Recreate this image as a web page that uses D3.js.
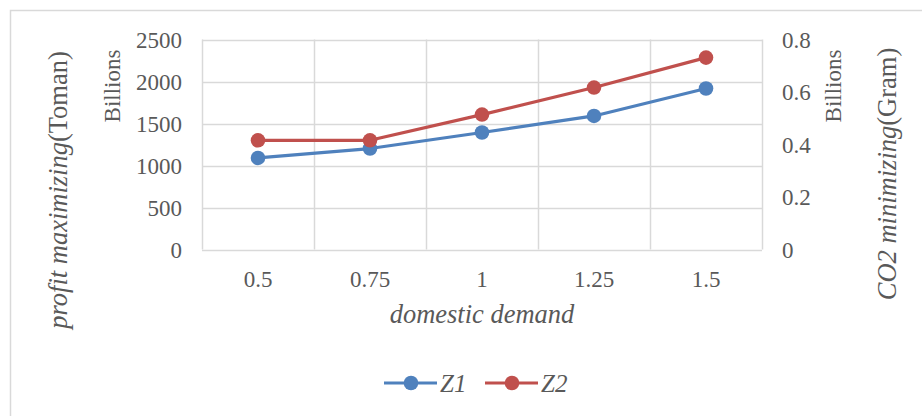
<!DOCTYPE html>
<html>
<head>
<meta charset="utf-8">
<script src="https://cdn.jsdelivr.net/npm/d3@7"></script>
<style>
  html, body { margin: 0; padding: 0; background: #fff; }
  svg { display: block; }
</style>
</head>
<body>
<svg id="chart" width="922" height="416"></svg>
<script>
// Domestic demand levels (categories)
const demand = ["0.5", "0.75", "1", "1.25", "1.5"];
// Z1: profit maximizing, billions of Toman (left axis)
const z1 = [1090, 1202, 1393, 1590, 1917];
// Z2: CO2 minimizing, billions of grams (right axis)
const z2 = [0.416, 0.416, 0.514, 0.617, 0.731];
// Axis tick values
const leftTicks = [0, 500, 1000, 1500, 2000, 2500];
const rightTicks = [0, 0.2, 0.4, 0.6, 0.8];

const FONT = "'Liberation Serif', 'Times New Roman', 'DejaVu Serif', serif";
const svg = d3.select("#chart")
  .attr("font-family", FONT)
  .style("font-family", FONT);
const plot = { left: 202, right: 762, top: 39.5, bottom: 249.5 };
const grid = "#d9d9d9";
const textColor = "#595959";
const blue = "#4f81bd", red = "#c0504d";
const fs = 23;        // tick labels
const titleFs = 26.5; // axis titles

function txt(sel, size) {
  return sel.attr("font-family", FONT).style("font-family", FONT)
    .attr("fill", textColor).attr("font-size", size || fs);
}

// Chart frame
svg.append("rect")
  .attr("x", 10.5).attr("y", 10.5)
  .attr("width", 940).attr("height", 440)
  .attr("fill", "none").attr("stroke", grid).attr("stroke-width", 1.5);

const x = d3.scaleBand().domain(demand).range([plot.left, plot.right]).padding(0);
const yL = d3.scaleLinear().domain([0, 2500]).range([plot.bottom, plot.top]);
const yR = d3.scaleLinear().domain([0, 0.8]).range([plot.bottom, plot.top]);

// Horizontal gridlines
svg.append("g").selectAll("line").data(leftTicks).join("line")
  .attr("x1", plot.left).attr("x2", plot.right)
  .attr("y1", d => Math.round(yL(d)) + 0.5).attr("y2", d => Math.round(yL(d)) + 0.5)
  .attr("stroke", grid).attr("stroke-width", 1.5);

// Vertical gridlines at category boundaries
const bounds = demand.map(d => x(d)).concat([plot.right]);
svg.append("g").selectAll("line").data(bounds).join("line")
  .attr("x1", d => Math.round(d) + 0.5).attr("x2", d => Math.round(d) + 0.5)
  .attr("y1", plot.top).attr("y2", plot.bottom)
  .attr("stroke", grid).attr("stroke-width", 1.5);

// Left axis tick labels
txt(svg.append("g").selectAll("text").data(leftTicks).join("text"))
  .attr("x", 182).attr("y", d => yL(d)).attr("dy", "0.35em")
  .attr("text-anchor", "end")
  .text(d => d);

// Right axis tick labels
txt(svg.append("g").selectAll("text").data(rightTicks).join("text"))
  .attr("x", 782).attr("y", d => yR(d)).attr("dy", "0.35em")
  .attr("text-anchor", "start")
  .text(d => d === 0 ? "0" : d3.format(".1f")(d));

// X tick labels
txt(svg.append("g").selectAll("text").data(demand).join("text"))
  .attr("x", d => x(d) + x.bandwidth() / 2).attr("y", 287)
  .attr("text-anchor", "middle")
  .text(d => d);

// Display-unit labels
[[112, "Billions"], [833, "Billions"]].forEach(([cx, t]) => {
  txt(svg.append("text"))
    .attr("transform", `translate(${cx + 8},86) rotate(-90)`)
    .attr("text-anchor", "middle")
    .text(t);
});

// Left axis title
const lt = txt(svg.append("text"), titleFs)
  .attr("transform", "translate(67,190) rotate(-90)")
  .attr("text-anchor", "middle");
lt.append("tspan").attr("font-style", "italic").text("profit maximizing");
lt.append("tspan").text("(Toman)");

// Right axis title
const rt = txt(svg.append("text"), titleFs)
  .attr("transform", "translate(896,174) rotate(-90)")
  .attr("text-anchor", "middle");
rt.append("tspan").attr("font-style", "italic").text("CO2 minimizing");
rt.append("tspan").text("(Gram)");

// X axis title
txt(svg.append("text"), titleFs)
  .attr("x", (plot.left + plot.right) / 2).attr("y", 323)
  .attr("text-anchor", "middle").attr("font-style", "italic")
  .text("domestic demand");

// Series
const series = [
  { name: "Z1", values: z1, y: yL, color: blue },
  { name: "Z2", values: z2, y: yR, color: red }
];
const cx = d => x(d) + x.bandwidth() / 2;
series.forEach(s => {
  const line = d3.line().x((v, i) => cx(demand[i])).y(v => s.y(v));
  svg.append("path").datum(s.values)
    .attr("d", line).attr("fill", "none")
    .attr("stroke", s.color).attr("stroke-width", 3.2)
    .attr("stroke-linejoin", "round");
  svg.append("g").selectAll("circle").data(s.values).join("circle")
    .attr("cx", (v, i) => cx(demand[i])).attr("cy", v => s.y(v))
    .attr("r", 7.3).attr("fill", s.color);
});

// Legend
const legendItems = [
  { name: "Z1", color: blue, x0: 384 },
  { name: "Z2", color: red, x0: 485 }
];
const ly = 383;
legendItems.forEach(it => {
  const g = svg.append("g");
  g.append("line").attr("x1", it.x0).attr("x2", it.x0 + 53)
    .attr("y1", ly).attr("y2", ly)
    .attr("stroke", it.color).attr("stroke-width", 3.2);
  g.append("circle").attr("cx", it.x0 + 27).attr("cy", ly).attr("r", 7.3).attr("fill", it.color);
  txt(g.append("text"), 25).attr("x", it.x0 + 56).attr("y", ly).attr("dy", "0.35em")
    .attr("font-style", "italic").text(it.name);
});
</script>
</body>
</html>
